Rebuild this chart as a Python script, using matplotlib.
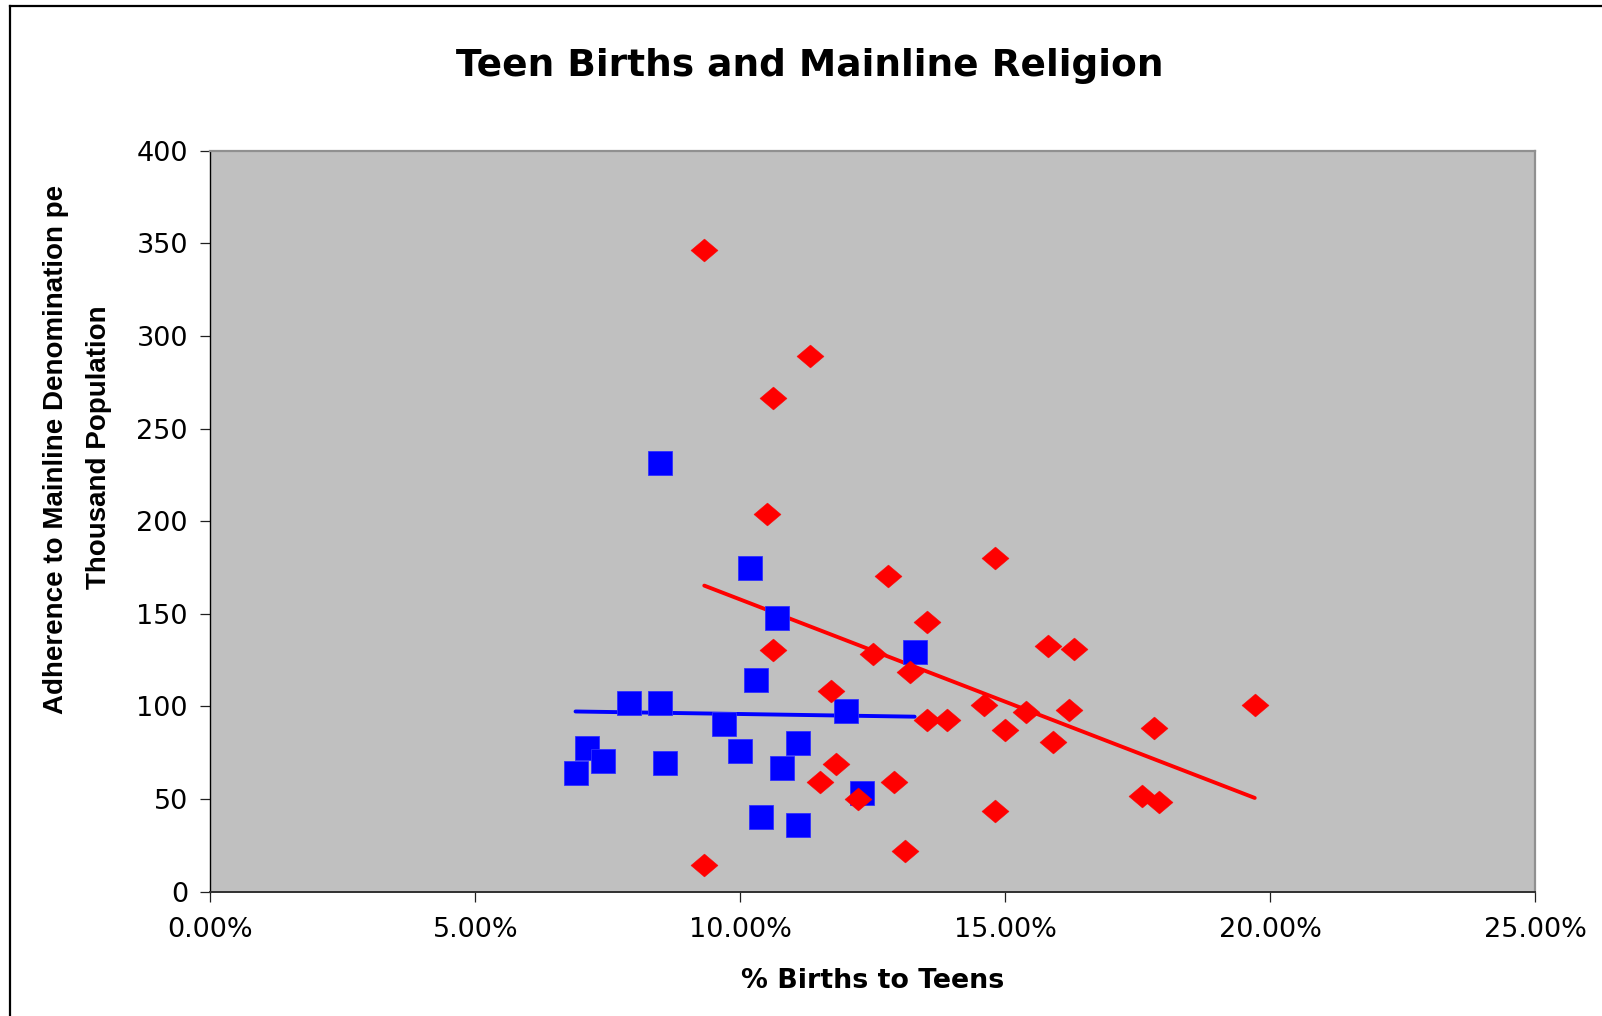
import numpy as np
import matplotlib
matplotlib.use("Agg")
import matplotlib.pyplot as plt
from matplotlib.path import Path
from matplotlib.lines import Line2D
from matplotlib.ticker import FuncFormatter

# ---- data ----
blue_x = [8.48, 10.18, 10.69, 13.29, 10.30, 7.89, 8.49, 11.99, 9.70, 11.08,
          9.99, 7.10, 7.40, 8.58, 10.78, 6.89, 12.30, 10.39, 11.08]
blue_y = [231.3, 174.6, 147.9, 129.4, 114.4, 102.0, 102.0, 97.5, 90.7, 80.4,
          76.0, 77.6, 70.7, 69.3, 66.9, 64.1, 53.1, 40.3, 35.8]

red_x = [9.32, 11.32, 10.62, 10.50, 14.81, 12.79, 13.52, 10.62, 15.81, 16.30,
         12.51, 13.21, 11.71, 14.60, 19.71, 15.39, 16.21, 13.52, 13.91, 15.00,
         17.81, 15.91, 11.80, 11.50, 12.91, 12.22, 17.59, 17.90, 14.81, 13.10, 9.32]
red_y = [346.4, 289.3, 266.3, 203.9, 180.3, 170.6, 145.4, 130.5, 132.6, 131.2,
         128.2, 118.6, 108.3, 100.6, 101.0, 97.0, 97.9, 92.7, 92.7, 87.5,
         88.2, 80.6, 68.9, 59.0, 59.0, 50.2, 51.7, 48.6, 43.6, 22.0, 14.4]

x_ticks = [0, 5, 10, 15, 20, 25]
y_ticks = [0, 50, 100, 150, 200, 250, 300, 350, 400]

title = "Teen Births and Mainline Religion"
xlabel = "% Births to Teens"
ylabel_1 = "Adherence to Mainline Denomination pe"
ylabel_2 = "Thousand Population"

BLUE = "#0000FF"
RED = "#FF0000"
W, H = 1602, 1016

fig = plt.figure(figsize=(W / 100, H / 100), dpi=100)
fig.patch.set_facecolor("white")

def fx(px):
    return px / W

def fy(py):
    return 1 - py / H

ax_left, ax_right, ax_top, ax_bottom = 210.5, 1535, 150.7, 891.7
ax = fig.add_axes([fx(ax_left), fy(ax_bottom), (ax_right - ax_left) / W,
                   (ax_bottom - ax_top) / H])
ax.set_facecolor("#C0C0C0")
ax.set_xlim(0, 25)
ax.set_ylim(0, 400)

# trend lines (least-squares fit of each series)
for xs, ys, col in [(blue_x, blue_y, BLUE), (red_x, red_y, RED)]:
    xs = np.asarray(xs); ys = np.asarray(ys)
    k, b = np.polyfit(xs, ys, 1)
    xe = np.array([xs.min(), xs.max()])
    ax.plot(xe, k * xe + b, color=col, lw=2.8, solid_capstyle="round", zorder=2)

diamond = Path([(0, 1), (1.18, 0), (0, -1), (-1.18, 0), (0, 1)],
               [Path.MOVETO, Path.LINETO, Path.LINETO, Path.LINETO, Path.CLOSEPOLY])

ax.plot(blue_x, blue_y, ls="none", marker="s", ms=17.6, mfc=BLUE, mec="#3030FF",
        mew=0.6, zorder=3)
ax.plot(red_x, red_y, ls="none", marker=diamond, ms=19.5, mfc=RED, mec=RED,
        mew=0.3, zorder=4)

ax.set_xticks(x_ticks)
ax.set_yticks(y_ticks)
ax.xaxis.set_major_formatter(FuncFormatter(lambda v, p: f"{v:.2f}%"))
ax.tick_params(axis="both", direction="out", length=7.2, width=0.9, color="#202020",
               labelsize=19.5, labelcolor="black")
ax.tick_params(axis="x", pad=11)
ax.tick_params(axis="y", pad=9)
for lab in ax.get_xticklabels() + ax.get_yticklabels():
    lab.set_fontfamily("DejaVu Sans")

ax.spines["left"].set_color("#000000")
ax.spines["left"].set_linewidth(1.0)
ax.spines["bottom"].set_color("#303030")
ax.spines["bottom"].set_linewidth(1.4)
for s in ("top", "right"):
    ax.spines[s].set_color("#909090")
    ax.spines[s].set_linewidth(1.6)

# texts
fig.text(fx(810), fy(76), title, ha="center", va="baseline",
         fontsize=27, fontweight="bold", family="DejaVu Sans")
fig.text(fx(873), fy(988), xlabel, ha="center", va="baseline",
         fontsize=19.4, fontweight="bold", family="DejaVu Sans")
fig.text(fx(63), fy(449.5), ylabel_1, rotation=90, rotation_mode="anchor",
         ha="center", va="baseline", fontsize=20, fontweight="bold",
         family="Liberation Sans")
fig.text(fx(106), fy(447), ylabel_2, rotation=90, rotation_mode="anchor",
         ha="center", va="baseline", fontsize=20, fontweight="bold",
         family="Liberation Sans")

# outer frame (cut off at right and bottom)
fig.add_artist(Line2D([fx(10), fx(1602)], [fy(6), fy(6)], transform=fig.transFigure,
                      color="black", lw=1.6))
fig.add_artist(Line2D([fx(10), fx(10)], [fy(6), fy(1016)], transform=fig.transFigure,
                      color="black", lw=1.6))

fig.savefig("out.png", dpi=100, facecolor="white")
